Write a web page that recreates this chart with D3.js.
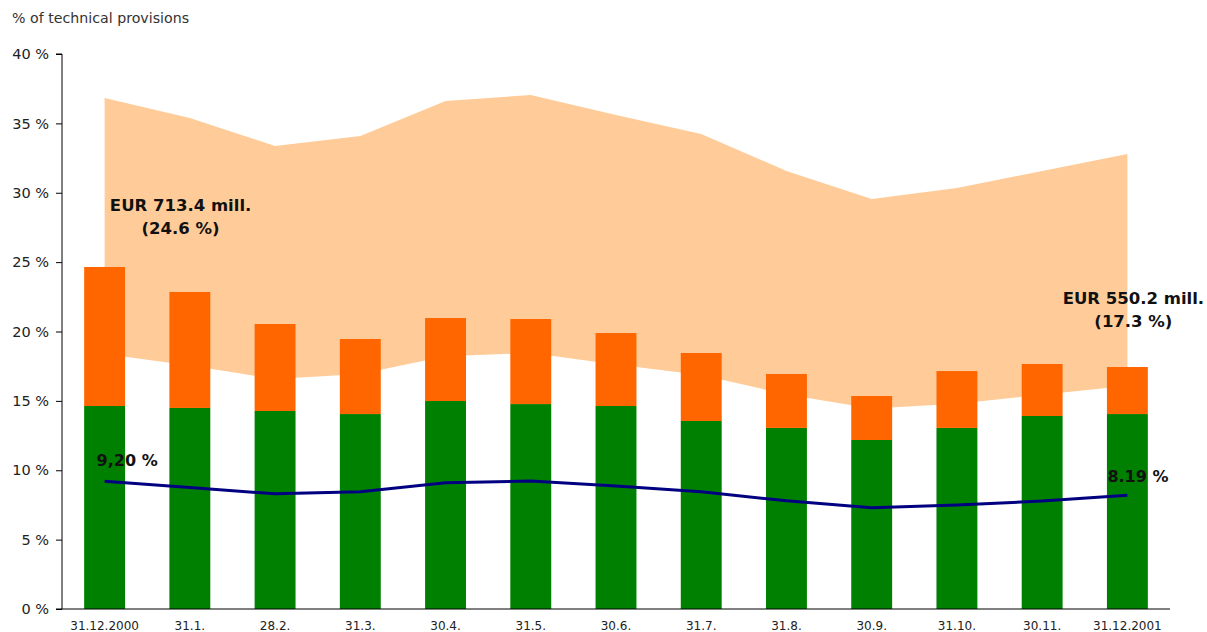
<!DOCTYPE html>
<html>
<head>
<meta charset="utf-8">
<script src="https://cdn.jsdelivr.net/npm/d3@7"></script>
<style>
  body { margin: 0; background: #fff; }
  text { font-family: "DejaVu Sans", Verdana, sans-serif; }
</style>
</head>
<body>
<div id="chart"></div>
<script>
const categories = ["31.12.2000", "31.1.", "28.2.", "31.3.", "30.4.", "31.5.", "30.6.", "31.7.", "31.8.", "30.9.", "31.10.", "30.11.", "31.12.2001"];
const greenValues = [14.63, 14.49, 14.27, 14.05, 14.99, 14.77, 14.63, 13.55, 13.05, 12.18, 13.05, 13.91, 14.05];
const totalValues = [24.65, 22.85, 20.54, 19.46, 20.97, 20.90, 19.89, 18.45, 16.94, 15.35, 17.15, 17.66, 17.44];
const bandLower = [18.38, 17.55, 16.58, 16.94, 18.21, 18.45, 17.62, 16.86, 15.46, 14.45, 14.80, 15.45, 16.09];
const bandUpper = [36.83, 35.39, 33.37, 34.09, 36.61, 37.05, 35.60, 34.23, 31.57, 29.55, 30.34, 31.57, 32.79];
const lineValues = [9.20, 8.75, 8.30, 8.45, 9.10, 9.22, 8.86, 8.45, 7.80, 7.30, 7.50, 7.78, 8.19];
const yTicks = [0, 5, 10, 15, 20, 25, 30, 35, 40];

const W = 1207, H = 632;
const mLeft = 62, mRight = 1170, mTop = 54, mBottom = 609;

const svg = d3.select("#chart").append("svg")
  .attr("width", W)
  .attr("height", H);

const x = d3.scaleBand()
  .domain(categories)
  .range([mLeft, mRight])
  .paddingInner(0.52)
  .paddingOuter(0.26);

const y = d3.scaleLinear()
  .domain([0, 40])
  .range([mBottom, mTop]);

const cx = d => x(d) + x.bandwidth() / 2;

// light band behind bars
const band = categories.map((c, i) => ({ c: c, lo: bandLower[i], hi: bandUpper[i] }));
svg.append("path")
  .datum(band)
  .attr("fill", "#ffcc99")
  .attr("d", d3.area()
    .x(d => cx(d.c))
    .y0(d => y(d.lo))
    .y1(d => y(d.hi)));

// stacked bars
const rows = categories.map((c, i) => ({ c: c, green: greenValues[i], orange: totalValues[i] - greenValues[i] }));
const stacked = d3.stack().keys(["green", "orange"])(rows);
const colors = { green: "#008000", orange: "#ff6600" };

svg.selectAll("g.layer")
  .data(stacked)
  .enter().append("g")
    .attr("class", "layer")
    .attr("fill", d => colors[d.key])
  .selectAll("rect")
  .data(d => d)
  .enter().append("rect")
    .attr("x", d => x(d.data.c))
    .attr("y", d => y(d[1]))
    .attr("width", x.bandwidth())
    .attr("height", d => y(d[0]) - y(d[1]));

// navy line
svg.append("path")
  .datum(lineValues)
  .attr("fill", "none")
  .attr("stroke", "#000080")
  .attr("stroke-width", 3)
  .attr("d", d3.line()
    .x((d, i) => cx(categories[i]))
    .y(d => y(d)));

// axes
const yAxis = svg.append("g")
  .attr("transform", `translate(${mLeft},0)`)
  .call(d3.axisLeft(y).tickValues(yTicks).tickFormat(d => d + " %").tickSize(6).tickPadding(7));
yAxis.select(".domain").attr("stroke", "#000").attr("d", `M-6,${mTop}H0V${mBottom}H-6`);
yAxis.selectAll("text").attr("font-size", 14.5).attr("fill", "#222")
  .style("font-family", "'DejaVu Sans', Verdana, sans-serif");

const xAxis = svg.append("g")
  .attr("transform", `translate(0,${mBottom})`)
  .call(d3.axisBottom(x).tickSize(0).tickPadding(12));
xAxis.select(".domain").attr("stroke", "#000").attr("d", `M${mLeft},0H${mRight}`);
xAxis.selectAll("text").attr("font-size", 12).attr("fill", "#222")
  .style("font-family", "'DejaVu Sans', Verdana, sans-serif");

// title
svg.append("text")
  .attr("x", 12).attr("y", 23)
  .attr("font-size", 14.2).attr("fill", "#333")
  .text("% of technical provisions");

// annotations
const bold = (tx, ty, str, size, anchor) => svg.append("text")
  .attr("x", tx).attr("y", ty)
  .attr("text-anchor", anchor || "middle")
  .attr("font-size", size).attr("font-weight", "bold").attr("fill", "#111")
  .text(str);

bold(cx(categories[0]) + 76, 211, "EUR 713.4 mill.", 16.5);
bold(cx(categories[0]) + 76, 234, "(24.6 %)", 16.5);
bold(cx(categories[12]) + 6, 304, "EUR 550.2 mill.", 16.5);
bold(cx(categories[12]) + 6, 327, "(17.3 %)", 16.5);
bold(cx(categories[0]) - 8, y(lineValues[0]) - 15, "9,20 %", 16, "start");
bold(cx(categories[12]) - 20, y(lineValues[12]) - 13, "8.19 %", 16, "start");
</script>
</body>
</html>
